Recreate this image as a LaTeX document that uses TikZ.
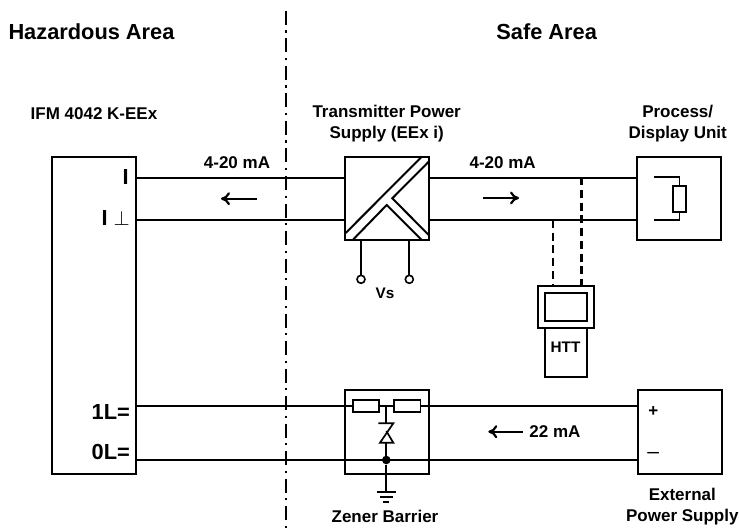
\documentclass[tikz,border=0pt]{standalone}
\usepackage{amsmath, amssymb}
\usepackage{fontspec}
\setmainfont{Liberation Sans}
\usetikzlibrary{calc, arrows.meta}
\tikzset{
  lbl/.style = {align=center, inner sep=0pt, text centered,
    font=\bfseries\fontsize{17}{21}\selectfont},
  lblbig/.style = {lbl, font=\bfseries\fontsize{21.8}{24}\selectfont},
  lblsmall/.style = {lbl, font=\bfseries\fontsize{15.3}{21}\selectfont},
  lblpin/.style = {lblbig, anchor=east},
  unit/.style = {rectangle, draw=black, line width=2pt, inner sep=0pt,
    outer sep=0pt, fill=white},
  res/.style = {unit, line width=1.7pt},
  wire/.style = {line width=2pt},
  thin_w/.style = {line width=1.7pt},
  tap/.style = {line width=2.4pt, dash pattern=on 8pt off 4.7pt},
  zone/.style = {line width=2.2pt, dash pattern=on 14pt off 5.5pt on 2.4pt off 5.6pt},
  flow/.style = {line width=2.2pt, -{Computer Modern Rightarrow[length=9pt,width=13pt]}},
  pin/.style = {circle, draw=black, line width=1.6pt, inner sep=0pt,
    minimum size=8pt, outer sep=0pt, fill=white}
}

\begin{document}
\begin{tikzpicture}[x=1pt, y=-1pt]
\useasboundingbox (0,0) rectangle (739,532);

% boxes
\node[unit, minimum width=84pt, minimum height=317.5pt] (ifm) at (93.7,315.5) {};
\node[unit, minimum width=84pt, minimum height=83.5pt] (tps) at (386.7,198.4) {};
\node[unit, minimum width=84pt, minimum height=83.5pt] (pdu) at (679.2,198.4) {};
\node[unit, minimum width=84pt, minimum height=84.3pt] (zb) at (387.2,432.2) {};
\node[unit, minimum width=84pt, minimum height=84.3pt] (eps) at (680,432.2) {};
\node[unit, minimum width=55.7pt, minimum height=41.7pt] (htt) at (566.2,306.8) {};
\node[unit, minimum width=42.3pt, minimum height=27.7pt] (scr) at (565.8,307.2) {};
\node[unit, minimum width=42.3pt, minimum height=49.6pt, anchor=north] (keys) at (565.8,327.7) {};

% area line
\coordinate (z1) at (286,11);
\coordinate (z2) at (286,532);
\draw[zone] (z1) -- (z2);

% signal wires
\coordinate (s1) at (136,177.5);
\coordinate (s2) at (136,220);
\draw[wire] (s1) -- (tps.west |- s1);
\draw[wire] (s2) -- (tps.west |- s2);
\draw[wire] (tps.east |- s1) -- (pdu.west |- s1);
\draw[wire] (tps.east |- s2) -- (pdu.west |- s2);

% supply wires
\coordinate (p1) at (136,405.7);
\coordinate (p2) at (136,460);
\draw[wire] (p1) -- (eps.west |- p1);
\draw[wire] (p2) -- (eps.west |- p2);

% converter symbol
\draw[wire] (345.7,233) -- (421.7,156.7);
\draw[wire] (352.7,240) -- (386.7,205) -- (421.7,240);
\draw[wire] (428.7,161.7) -- (392.3,198.3) -- (428.7,235);
\node[pin] (v1) at (361,279.3) {};
\node[pin] (v2) at (409.3,279.3) {};
\draw[thin_w] (v1) -- (v1 |- tps.south);
\draw[thin_w] (v2) -- (v2 |- tps.south);

% load inside display unit
\node[res, minimum width=12.4pt, minimum height=26.6pt] (rl) at (679.5,199) {};
\coordinate (l1) at (654.3,177.3);
\coordinate (l2) at (654.3,220);
\draw[thin_w] (l1) -- (rl |- l1) -- (rl);
\draw[thin_w] (l2) -- (rl |- l2) -- (rl);

% handheld taps
\coordinate (t1) at (581,177.3);
\coordinate (t2) at (552.7,220);
\draw[tap, line width=3pt] (t1) -- (t1 |- htt.north);
\draw[tap] (t2) -- (t2 |- htt.north);

% barrier
\node[res, minimum width=26.6pt, minimum height=12pt] (r1) at (366,406) {};
\node[res, minimum width=26.6pt, minimum height=12pt] (r2) at (407.3,406) {};
\node[circle, fill=black, inner sep=0pt, minimum size=8.6pt] (dot) at (386.3,460) {};
\coordinate (g0) at (386.3,491.7);
\coordinate (zk) at (386.3,423.3);
\coordinate (za) at (386.3,431);
\draw[thin_w] (386.3,405.7) -- (zk);
\draw[thin_w] (378.3,423.3) -- (393.3,423.3) -- (380,442.7) -- (393.3,442.7) -- (za);
\draw[thin_w] (386.3,442.7) -- (dot) -- (g0);
\draw[thin_w] (376.7,491.7) -- (396,491.7);
\draw[thin_w] (380,496.7) -- (393,496.7);
\draw[thin_w] (383.3,502.3) -- (389.3,502.3);

% arrows
\coordinate (f1) at (257,198.7);
\coordinate (f2) at (221,198.7);
\coordinate (f3) at (483,198);
\coordinate (f4) at (519,198);
\coordinate (f5) at (522.7,431.7);
\coordinate (f6) at (488.3,431.7);
\draw[flow] (f1) -- (f2);
\draw[flow] (f3) -- (f4);
\draw[flow] (f5) -- (f6);

% texts
\node[lblbig] (hz) at (91.5,31.5) {Hazardous Area};
\node[lblbig] (sf) at (546.7,32) {Safe Area};
\node[lbl] (t_ifm) at (94,114) {IFM 4042 K-EEx};
\node[lbl] (t_tps) at (386.7,123.5) {Transmitter Power\\Supply (EEx i)};
\node[lbl] (t_pdu) at (677.7,123.5) {Process/\\Display Unit};
\node[lbl] (c1) at (237,163) {4-20 mA};
\node[lbl] (c2) at (502.7,163) {4-20 mA};
\node[lbl] (c3) at (555,431.7) {22 mA};
\node[lblsmall] (vs) at (385,293) {Vs};
\node[lblsmall] (t_htt) at (565.5,347.5) {HTT};
\node[lbl] (t_zb) at (385,516.5) {Zener Barrier};
\node[lbl] (t_eps) at (682.3,507) {External\\Power Supply};
\node[lblpin] (n1) at (129,177) {I};
\node[lblpin] (n2) at (130,218) {I $\perp$};
\node[lblpin] (n3) at (130,411.7) {1L=};
\node[lblpin] (n4) at (130,452.3) {0L=};
\node[lbl, font=\bfseries\fontsize{17}{17}\selectfont] (pl) at (653.3,411.7) {+};
\node[lbl, font=\fontsize{21}{21}\selectfont] (mn) at (653.3,455.7) {–};
\end{tikzpicture}
\end{document}
